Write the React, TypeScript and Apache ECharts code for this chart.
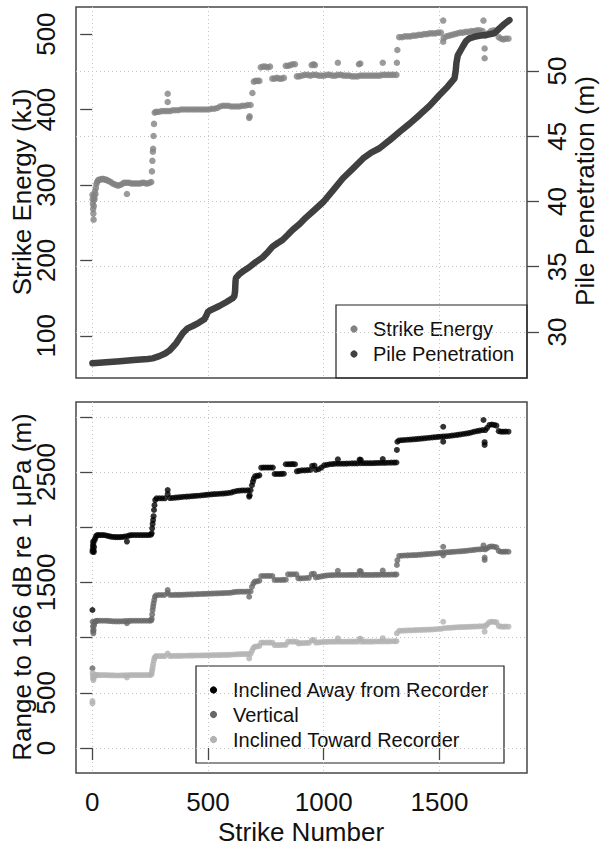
import React, { useEffect, useRef } from 'react';
import * as echarts from 'echarts';

const FONT = '"Liberation Sans", Arial, Helvetica, sans-serif';

const xTicks = [0, 500, 1000, 1500];
const energyTicks = [100, 200, 300, 400, 500];
const penetrationTicks = [30, 35, 40, 45, 50];
const rangeTicks = [0, 500, 1000, 1500, 2000, 2500, 3000];
const rangeLabels = [0, 500, 1500, 2500];

const topLegend = ['Strike Energy', 'Pile Penetration'];
const bottomLegend = ['Inclined Away from Recorder', 'Vertical', 'Inclined Toward Recorder'];

// [strike number, strike energy kJ]
const strikeEnergy = [
  [1,287],[2,281],[3,275],[4,268],[5,262],[6,254],[7,272],[8,280],[9,286],[10,282],[12,292],[14,288],[16,296],[18,301],[21,304],[25,306],[30,307],[36,307],[42,308],[48,308],[54,307],[60,307],[66,306],[72,305],[80,304],[88,302],[96,301],[104,300],[112,299],[120,300],[128,301],[136,303],[144,303],[150,288],[152,303],[160,303],[168,302],[176,302],[184,302],[192,302],[200,302],[208,302],[216,303],[224,303],[232,302],[240,302],[248,303],[255,304],
  [258,318],[260,332],[262,344],[263,348],[265,365],[267,381],[270,396],
  [276,397],[288,397],[300,398],[312,398],[324,398],[326,410],[326,421],[336,398],[348,399],[360,399],[372,399],[384,400],[396,400],[408,400],[420,400],[432,400],[444,400],[456,400],[468,400],[480,400],[492,400],[504,400],[516,401],[528,401],[540,402],[552,404],[564,405],[576,405],[588,405],[600,404],[612,404],[624,404],[636,404],[648,405],[660,405],[672,406],[678,389],[680,391],[684,406],
  [692,422],[698,437],[706,438],[714,438],[722,438],[728,456],[738,457],[748,457],[758,456],[768,457],[778,441],[788,441],[798,442],[808,441],[818,441],[828,442],[836,458],[846,458],[856,459],[866,460],[876,460],[884,444],[894,444],[906,445],[918,446],[930,446],[942,445],[948,459],[956,460],[962,459],[954,446],[966,446],[978,445],[990,445],[1002,445],[1014,446],[1026,446],[1038,445],[1050,445],[1061,462],[1062,446],[1074,446],[1086,445],[1098,445],[1110,445],[1122,444],[1134,444],[1146,444],[1152,460],[1158,461],[1158,445],[1170,445],[1182,445],[1194,445],[1206,445],[1218,445],[1230,445],[1242,445],[1255,462],[1254,446],[1266,446],[1278,446],[1290,446],[1302,446],[1314,446],[1316,462],[1318,479],
  [1326,496],[1338,496],[1350,497],[1362,497],[1374,497],[1386,498],[1398,498],[1410,499],[1422,499],[1434,500],[1446,500],[1458,501],[1470,501],[1482,501],[1494,502],[1506,502],[1516,518],[1516,490],[1518,495],[1530,497],[1542,498],[1554,499],[1566,500],[1578,501],[1590,502],[1602,502],[1614,503],[1626,503],[1638,504],[1650,504],[1662,505],[1674,505],[1686,504],[1690,518],[1695,481],[1695,468],[1698,498],[1710,501],[1722,504],[1734,505],[1746,504],[1756,496],[1766,494],[1776,493],[1786,494],[1798,494]
];

// [strike number, pile penetration m]
const pilePenetration = [
  [1,27.6],[60,27.68],[120,27.76],[180,27.85],[240,27.93],[261,27.98],[290,28.15],[315,28.35],[333,28.57],[348,28.85],[362,29.13],[376,29.5],[391,29.9],[412,30.28],[434,30.46],[460,30.7],[484,30.97],[494,31.3],[500,31.55],[506,31.63],[549,31.99],[580,32.3],[606,32.58],[614,32.75],[617,33.1],[618,33.5],[619,33.9],[621,34.15],[635,34.42],[655,34.7],[678,34.96],[706,35.35],[736,35.72],[760,36.15],[779,36.54],[800,36.8],[822,37.05],[845,37.45],[865,37.82],[897,38.3],[922,38.75],[960,39.35],[1000,40.0],[1040,40.85],[1083,41.78],[1125,42.5],[1170,43.3],[1205,43.75],[1241,44.08],[1285,44.7],[1328,45.35],[1370,45.95],[1414,46.63],[1458,47.35],[1500,48.16],[1535,48.8],[1565,49.44],[1570,50.0],[1573,50.6],[1579,51.2],[1600,51.86],[1615,52.3],[1629,52.5],[1650,52.62],[1672,52.7],[1705,52.78],[1737,52.89],[1759,53.27],[1780,53.6],[1802,53.9]
];

// [strike number, range m]
const inclinedAway = [
  [1,1250],[1,1778],[2,1800],[3,1830],[4,1869],[5,1850],[6,1790],[7,1775],[8,1820],[10,1880],[13,1900],[17,1920],[22,1929],[30,1929],[40,1929],[50,1929],[60,1925],[70,1920],[80,1915],[90,1912],[100,1910],[110,1910],[120,1910],[130,1912],[140,1915],[150,1870],[152,1920],[162,1926],[172,1929],[184,1929],[196,1929],[208,1929],[220,1929],[232,1929],[244,1929],[254,1932],
  [257,1945],[259,1990],[261,2030],[263,2065],[265,2100],[267,2156],[269,2200],[272,2246],
  [278,2262],[290,2262],[302,2262],[314,2262],[326,2337],[326,2300],[336,2264],[348,2265],[360,2268],[372,2270],[384,2273],[396,2276],[408,2277],[420,2279],[432,2281],[444,2283],[456,2285],[468,2287],[480,2290],[492,2293],[504,2296],[516,2298],[528,2300],[540,2301],[552,2303],[564,2305],[576,2307],[588,2310],[600,2314],[612,2322],[624,2328],[636,2331],[648,2333],[660,2333],[672,2334],[678,2277],[680,2290],[684,2335],
  [690,2380],[694,2412],[698,2440],[704,2464],[714,2464],[722,2470],[730,2539],[740,2540],[750,2541],[760,2540],[770,2541],[780,2540],[788,2482],[798,2482],[808,2482],[818,2483],[828,2484],[836,2570],[846,2570],[856,2571],[866,2572],[876,2570],[884,2506],[894,2510],[906,2515],[918,2515],[930,2517],[942,2518],[950,2555],[960,2558],[966,2520],[978,2525],[990,2540],[1002,2560],[1014,2565],[1026,2570],[1038,2572],[1050,2575],[1061,2615],[1062,2575],[1074,2575],[1086,2575],[1098,2576],[1110,2577],[1122,2578],[1134,2578],[1146,2578],[1155,2612],[1160,2610],[1160,2580],[1172,2580],[1184,2580],[1196,2580],[1208,2580],[1220,2581],[1232,2582],[1244,2582],[1255,2618],[1256,2583],[1268,2583],[1280,2584],[1292,2585],[1304,2585],[1314,2586],[1316,2700],[1318,2774],
  [1326,2786],[1338,2788],[1350,2790],[1362,2792],[1374,2794],[1386,2796],[1398,2798],[1410,2800],[1422,2803],[1434,2805],[1446,2808],[1458,2810],[1470,2813],[1482,2815],[1494,2818],[1506,2820],[1516,2910],[1516,2775],[1518,2822],[1530,2824],[1542,2826],[1554,2830],[1566,2833],[1578,2836],[1590,2840],[1602,2844],[1614,2848],[1626,2852],[1638,2858],[1650,2865],[1662,2870],[1674,2875],[1686,2880],[1690,2971],[1695,2745],[1695,2770],[1698,2880],[1706,2900],[1716,2926],[1726,2930],[1736,2926],[1746,2920],[1756,2870],[1766,2865],[1776,2865],[1786,2866],[1798,2865]
];

const vertical = [
  [1,722],[2,1144],[3,1100],[4,1060],[5,1039],[6,1070],[8,1110],[10,1135],[13,1145],[17,1150],[22,1153],[32,1153],[44,1153],[56,1153],[68,1152],[80,1150],[92,1148],[104,1147],[116,1147],[128,1148],[140,1150],[150,1130],[152,1151],[164,1152],[176,1153],[188,1153],[200,1153],[212,1153],[224,1153],[236,1153],[248,1153],[255,1156],
  [257,1170],[259,1210],[261,1250],[263,1280],[265,1310],[268,1340],[271,1370],[276,1384],[288,1386],[300,1386],[312,1386],[326,1431],[326,1405],[336,1386],[348,1386],[360,1387],[372,1387],[384,1388],[396,1389],[408,1390],[420,1391],[432,1392],[444,1393],[456,1394],[468,1395],[480,1396],[492,1397],[504,1398],[516,1399],[528,1400],[540,1401],[552,1402],[564,1403],[576,1404],[588,1405],[600,1407],[612,1412],[624,1415],[636,1416],[648,1416],[660,1416],[672,1417],[678,1370],[684,1418],
  [690,1460],[696,1490],[702,1507],[712,1510],[722,1515],[730,1558],[742,1558],[754,1559],[766,1559],[778,1558],[788,1522],[800,1522],[812,1522],[824,1523],[836,1524],[846,1573],[858,1573],[870,1574],[882,1573],[890,1537],[900,1537],[912,1538],[924,1540],[936,1542],[948,1575],[958,1578],[966,1545],[978,1550],[990,1555],[1002,1560],[1014,1563],[1026,1565],[1038,1566],[1050,1567],[1061,1605],[1062,1567],[1074,1567],[1086,1567],[1098,1567],[1110,1568],[1122,1568],[1134,1568],[1146,1568],[1155,1603],[1160,1600],[1162,1568],[1174,1568],[1186,1568],[1198,1568],[1210,1568],[1222,1569],[1234,1569],[1246,1570],[1255,1608],[1258,1570],[1270,1570],[1282,1570],[1294,1571],[1306,1571],[1314,1572],[1316,1658],[1318,1700],
  [1326,1740],[1338,1742],[1350,1744],[1362,1745],[1374,1746],[1386,1747],[1398,1748],[1410,1750],[1422,1752],[1434,1754],[1446,1756],[1458,1758],[1470,1760],[1482,1762],[1494,1765],[1506,1768],[1516,1823],[1516,1745],[1518,1770],[1530,1772],[1542,1774],[1554,1776],[1566,1778],[1578,1780],[1590,1782],[1602,1784],[1614,1786],[1626,1789],[1638,1792],[1650,1795],[1662,1798],[1674,1800],[1686,1802],[1690,1835],[1695,1703],[1695,1725],[1698,1800],[1706,1810],[1716,1823],[1726,1826],[1736,1823],[1746,1818],[1756,1785],[1766,1778],[1776,1778],[1786,1779],[1798,1778]
];

const inclinedToward = [
  [1,405],[1,425],[2,680],[3,655],[4,630],[5,616],[6,635],[8,648],[10,655],[13,659],[17,661],[22,661],[32,661],[44,661],[56,661],[68,660],[80,659],[92,658],[104,657],[116,657],[128,658],[140,659],[150,640],[152,660],[164,661],[176,661],[188,661],[200,661],[212,661],[224,661],[236,661],[248,661],[255,664],
  [257,680],[259,705],[261,730],[263,760],[266,790],[269,815],[273,828],[278,833],[290,833],[302,833],[314,833],[326,855],[336,833],[348,834],[360,834],[372,835],[384,835],[396,836],[408,836],[420,837],[432,837],[444,838],[456,838],[468,839],[480,839],[492,840],[504,840],[516,841],[528,841],[540,842],[552,842],[564,843],[576,843],[588,844],[600,845],[612,847],[624,849],[636,850],[648,851],[660,851],[672,852],[678,812],[684,852],
  [690,880],[696,905],[702,918],[712,920],[722,925],[730,954],[742,954],[754,955],[766,955],[778,954],[788,933],[800,933],[812,933],[824,934],[836,935],[846,963],[858,963],[870,964],[882,963],[890,948],[900,950],[912,951],[924,952],[936,953],[948,975],[958,978],[966,955],[978,957],[990,959],[1002,961],[1014,962],[1026,963],[1038,963],[1050,963],[1061,993],[1062,963],[1074,963],[1086,963],[1098,963],[1110,964],[1122,964],[1134,964],[1146,964],[1155,990],[1160,990],[1162,964],[1174,964],[1186,964],[1198,964],[1210,964],[1222,965],[1234,965],[1246,966],[1255,995],[1258,966],[1270,966],[1282,966],[1294,967],[1306,967],[1314,968],[1316,1039],
  [1326,1062],[1338,1063],[1350,1064],[1362,1065],[1374,1066],[1386,1067],[1398,1068],[1410,1069],[1422,1070],[1434,1071],[1446,1072],[1458,1073],[1470,1074],[1482,1076],[1494,1078],[1506,1080],[1516,1144],[1518,1085],[1530,1087],[1542,1089],[1554,1090],[1566,1092],[1578,1094],[1590,1095],[1602,1096],[1614,1097],[1626,1098],[1638,1099],[1650,1100],[1662,1101],[1674,1102],[1686,1103],[1695,1054],[1698,1105],[1706,1120],[1716,1140],[1726,1144],[1736,1142],[1746,1138],[1756,1105],[1766,1100],[1776,1099],[1786,1100],[1798,1099]
];

const C_ENERGY = '#828282';
const C_PILE = '#404040';
const C_AWAY = '#000000';
const C_VERT = '#676767';
const C_TOWARD = '#b2b2b2';
const C_AXIS = '#474747';
const C_TEXT = '#111111';

const plain = (v: number) => String(v);
const gridLine = { show: true, lineStyle: { color: '#c4c4c4', type: [1, 3], width: 1 } };
const tickOut = (vals: number[]) => ({
  show: true, inside: false, length: 12, customValues: vals,
  lineStyle: { color: C_AXIS, width: 1.3 },
});
const labelStyle = { color: C_TEXT, fontSize: 26, fontFamily: FONT, formatter: plain };

export default function App() {
  const ref = useRef<HTMLDivElement>(null);
  useEffect(() => {
    if (!ref.current) return;
    const chart = echarts.init(ref.current, null, { renderer: 'svg' });
    const legendText = (x: number, y: number, t: string) => ({
      type: 'text', x, y,
      style: { text: t, fontSize: 20, fontFamily: FONT, fill: C_TEXT, align: 'left', verticalAlign: 'middle' },
    });
    const dot = (cx: number, cy: number, fill: string) => ({
      type: 'circle', shape: { cx, cy, r: 3.6 }, style: { fill },
    });
    const title = (x: number, y: number, t: string, rot: number) => ({
      type: 'text', x, y, rotation: rot,
      style: { text: t, fontSize: 26, fontFamily: FONT, fill: C_TEXT, align: 'center', verticalAlign: 'middle' },
    });
    chart.setOption({
      animation: false,
      backgroundColor: '#ffffff',
      grid: [
        { left: 76, right: 74, top: 7, height: 371, show: true, borderColor: C_AXIS, borderWidth: 1.5, backgroundColor: 'transparent' },
        { left: 76, right: 74, top: 402, height: 371, show: true, borderColor: C_AXIS, borderWidth: 1.5, backgroundColor: 'transparent' },
      ],
      xAxis: [
        {
          type: 'value', gridIndex: 0, min: -70, max: 1878,
          axisLine: { show: false },
          axisTick: { show: false, customValues: xTicks },
          axisLabel: { show: false, customValues: xTicks },
          splitLine: gridLine,
        },
        {
          type: 'value', gridIndex: 1, min: -70, max: 1878,
          axisLine: { show: false },
          axisTick: tickOut(xTicks),
          axisLabel: { ...labelStyle, customValues: xTicks, margin: 16 },
          splitLine: gridLine,
        },
      ],
      yAxis: [
        {
          type: 'value', gridIndex: 0, position: 'left', min: 44, max: 536,
          axisLine: { show: false },
          axisTick: tickOut(energyTicks),
          axisLabel: { ...labelStyle, customValues: energyTicks, rotate: 90, margin: 17 },
          splitLine: { show: false },
        },
        {
          type: 'value', gridIndex: 0, position: 'right', min: 26.475, max: 54.904,
          axisLine: { show: false },
          axisTick: tickOut(penetrationTicks),
          axisLabel: { ...labelStyle, customValues: penetrationTicks, rotate: 90, margin: 17 },
          splitLine: gridLine,
        },
        {
          type: 'value', gridIndex: 1, position: 'left', min: -226, max: 3134,
          axisLine: { show: false },
          axisTick: tickOut(rangeTicks),
          axisLabel: { ...labelStyle, customValues: rangeLabels, rotate: 90, margin: 17 },
          splitLine: gridLine,
        },
      ],
      series: [
        {
          name: topLegend[0], type: 'scatter', xAxisIndex: 0, yAxisIndex: 0,
          data: strikeEnergy, symbol: 'circle', symbolSize: 6.5,
          itemStyle: { color: C_ENERGY }, silent: true,
        },
        {
          name: topLegend[1], type: 'line', xAxisIndex: 0, yAxisIndex: 1,
          data: pilePenetration, showSymbol: false, symbol: 'none',
          lineStyle: { color: C_PILE, width: 6.5, cap: 'round', join: 'round' },
          silent: true,
        },
        {
          name: bottomLegend[0], type: 'scatter', xAxisIndex: 1, yAxisIndex: 2,
          data: inclinedAway, symbolSize: 6, itemStyle: { color: C_AWAY }, silent: true,
        },
        {
          name: bottomLegend[1], type: 'scatter', xAxisIndex: 1, yAxisIndex: 2,
          data: vertical, symbolSize: 6, itemStyle: { color: C_VERT }, silent: true,
        },
        {
          name: bottomLegend[2], type: 'scatter', xAxisIndex: 1, yAxisIndex: 2,
          data: inclinedToward, symbolSize: 6, itemStyle: { color: C_TOWARD }, silent: true,
        },
      ],
      graphic: [
        title(22, 192, 'Strike Energy (kJ)', Math.PI / 2),
        title(585, 191, 'Pile Penetration (m)', Math.PI / 2),
        title(22, 587, 'Range to 166 dB re 1 μPa (m)', Math.PI / 2),
        title(301, 832, 'Strike Number', 0),
        { type: 'rect', shape: { x: 336, y: 305, width: 191, height: 73 }, style: { fill: 'none', stroke: '#222', lineWidth: 1.2 } },
        dot(354, 329, C_ENERGY), legendText(373, 329, topLegend[0]),
        dot(354, 354, C_PILE), legendText(373, 354, topLegend[1]),
        { type: 'rect', shape: { x: 196, y: 666, width: 308, height: 97 }, style: { fill: 'none', stroke: '#222', lineWidth: 1.2 } },
        dot(213.5, 690, C_AWAY), legendText(233, 690, bottomLegend[0]),
        dot(213.5, 714.5, C_VERT), legendText(233, 714.5, bottomLegend[1]),
        dot(213.5, 739.5, C_TOWARD), legendText(233, 739.5, bottomLegend[2]),
      ],
    });
    return () => chart.dispose();
  }, []);
  return (
    <div
      ref={ref}
      style={{ position: 'fixed', left: 0, top: 0, width: 601, height: 847, background: '#fff' }}
    />
  );
}
